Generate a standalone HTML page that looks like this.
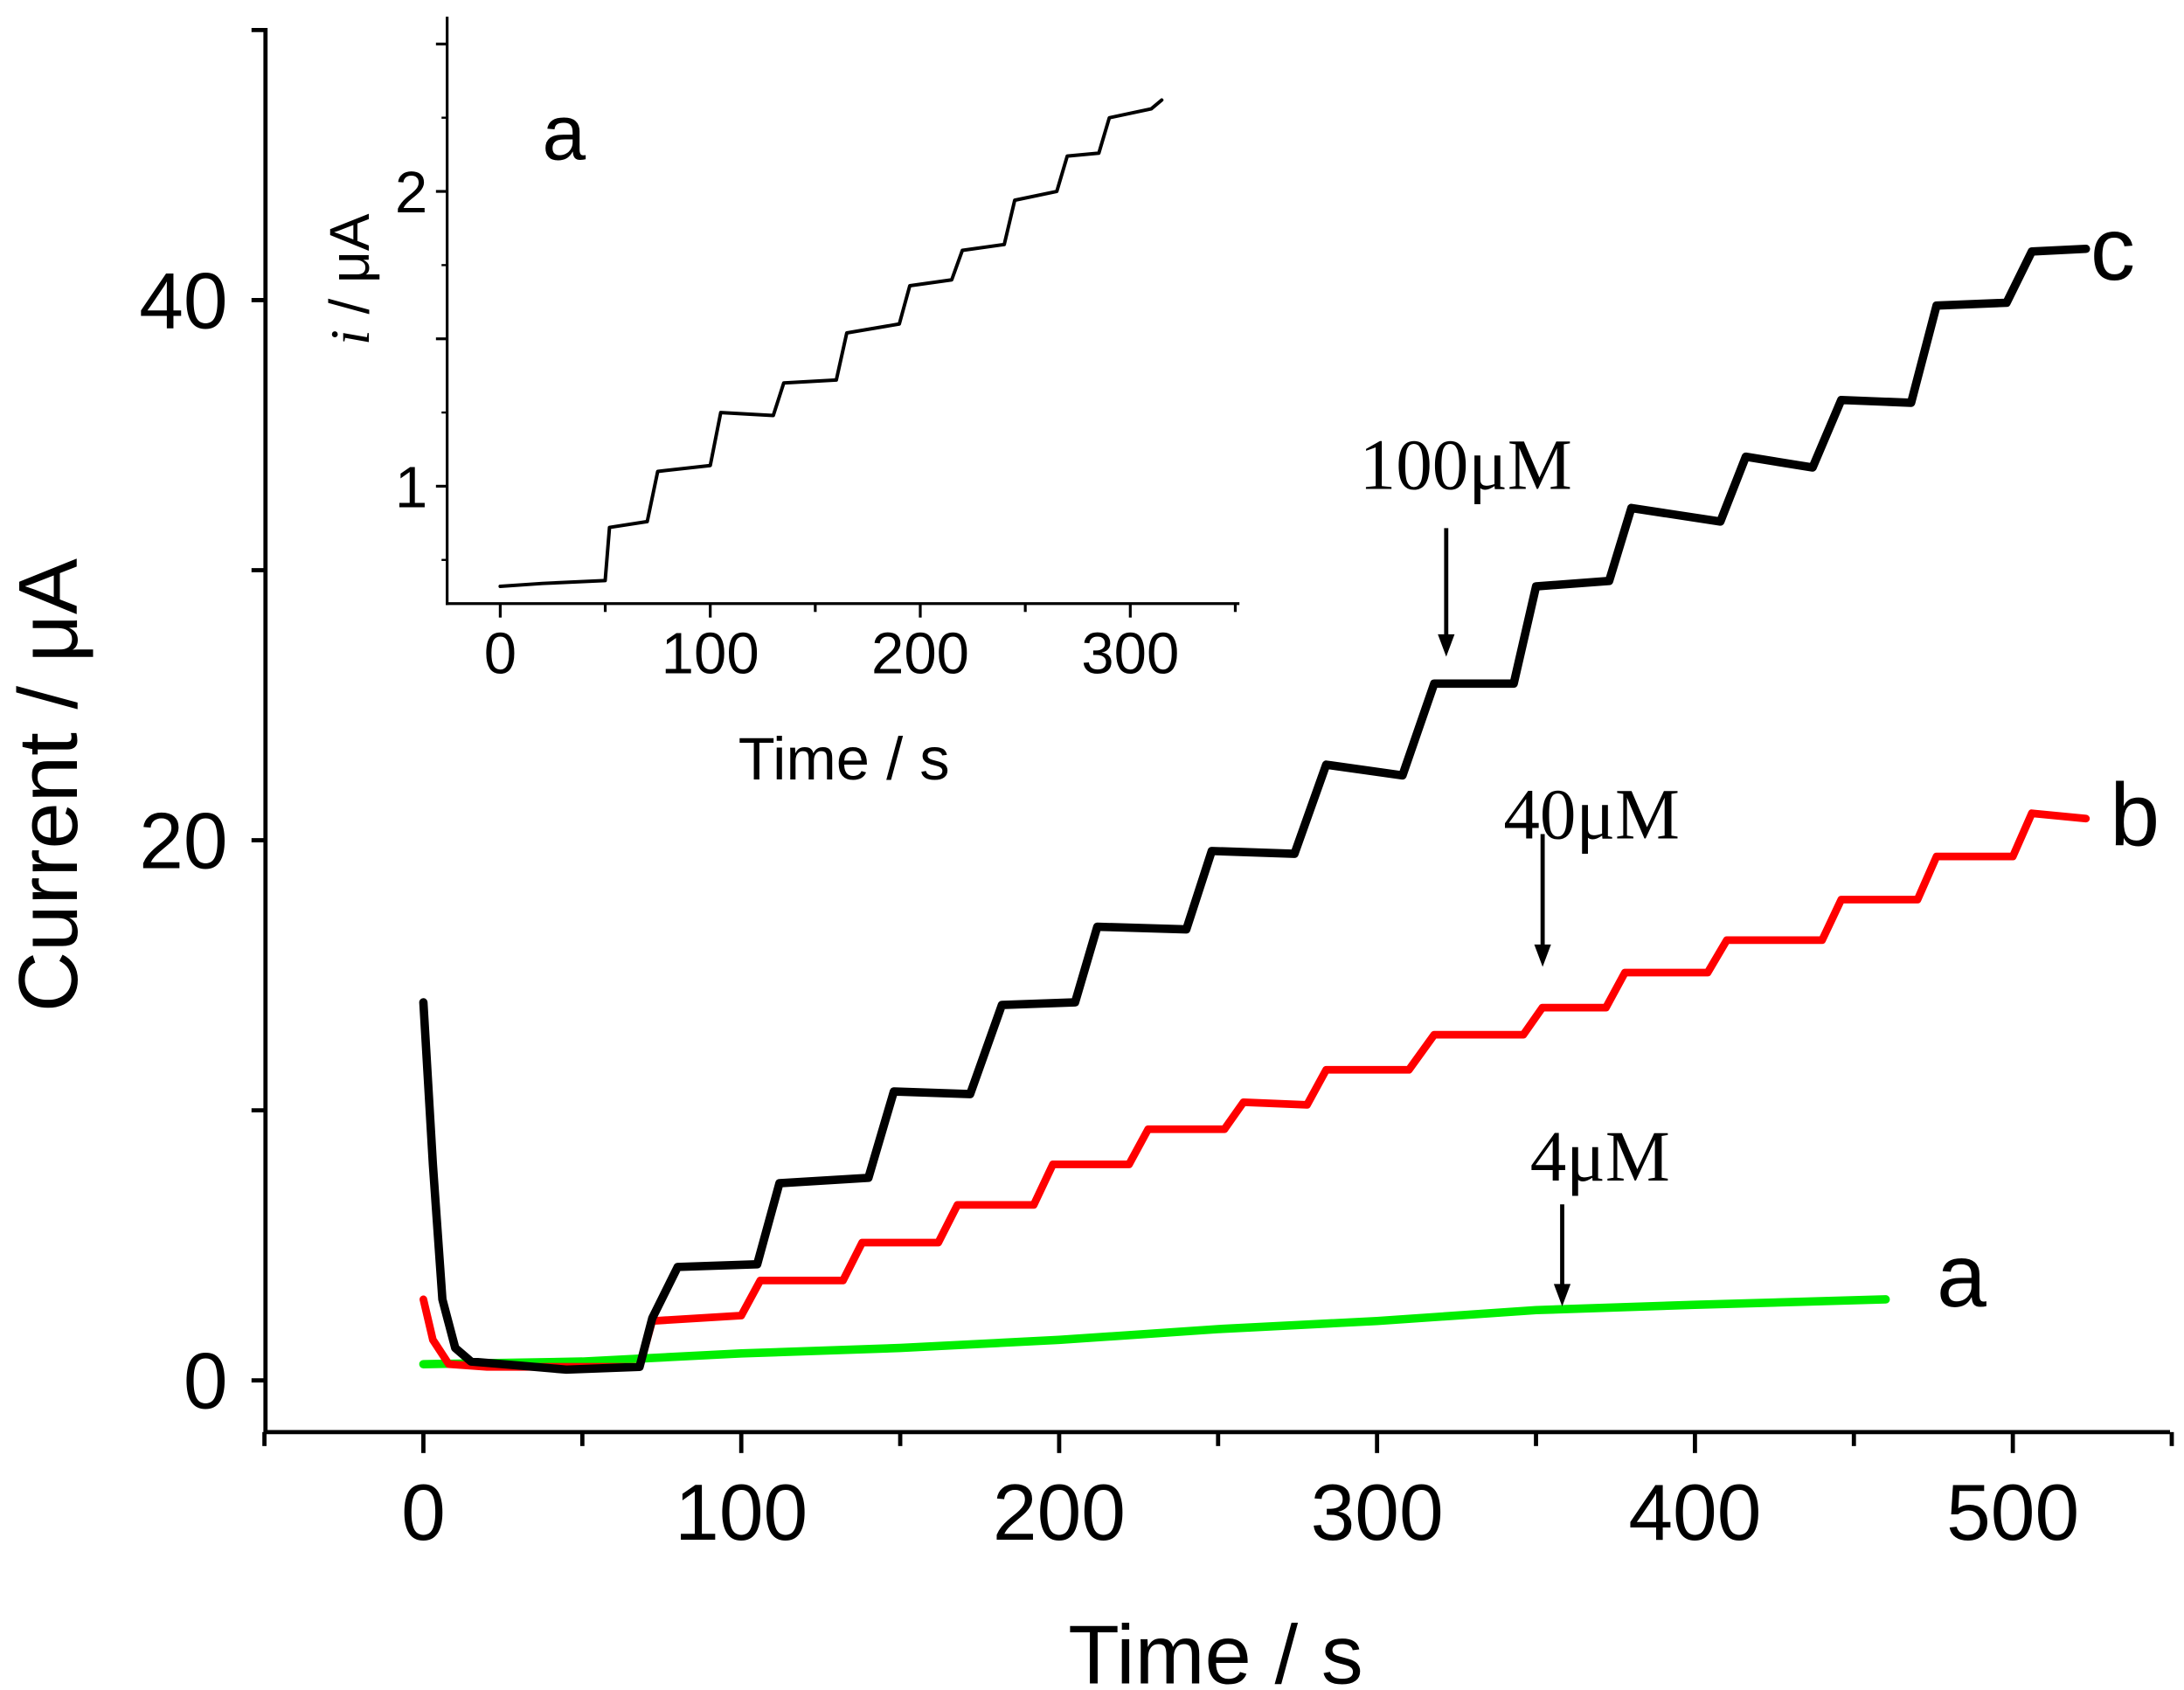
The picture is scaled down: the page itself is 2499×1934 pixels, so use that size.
<!DOCTYPE html>
<html><head><meta charset="utf-8"><style>
html,body{margin:0;padding:0;background:#fff}
svg{display:block}
text{font-family:"Liberation Sans",Arial,sans-serif;fill:#000}
.serif{font-family:"Liberation Serif",serif}
</style></head><body>
<svg id="chart" width="2499" height="1934" viewBox="0 0 1563 1209.6" preserveAspectRatio="none" xmlns="http://www.w3.org/2000/svg">
<g id="main"></g>
<g id="inset"></g>
</svg>
<script>
// ---- main chart data ----
const cTimes=[0,3,6,10,15,25,45,68,72,80,105,112,140,148,172,182,205,212,240,248,274,284,308,318,343,350,373,380,408,416,437,446,468,476,498,506,523];
const cValues=[14,8,3,1.2,0.7,0.6,0.4,0.5,2.3,4.2,4.3,7.3,7.5,10.7,10.6,13.9,14.0,16.8,16.7,19.6,19.5,22.8,22.4,25.8,25.8,29.4,29.6,32.3,31.8,34.2,33.8,36.3,36.2,39.8,39.9,41.8,41.9];
const bTimes=[0,3,8,20,68,72,100,106,132,138,162,168,192,198,222,228,252,258,278,284,310,318,346,352,372,378,404,410,440,446,470,476,500,506,523];
const bValues=[3,1.5,0.6,0.5,0.5,2.2,2.4,3.7,3.7,5.1,5.1,6.5,6.5,8.0,8.0,9.3,9.3,10.3,10.2,11.5,11.5,12.8,12.8,13.8,13.8,15.1,15.1,16.3,16.3,17.8,17.8,19.4,19.4,21.0,20.8];
const aTimes=[0,50,100,150,200,250,300,350,400,460];
const aValues=[0.6,0.7,1.0,1.2,1.5,1.9,2.2,2.6,2.8,3.0];
const xTicks=[0,100,200,300,400,500];
const yTicks=[0,20,40];
// ---- inset data ----
const iTimes=[0,20,50,52,70,75,100,105,130,135,160,165,190,195,215,220,240,245,265,270,285,290,310,315];
const iValues=[0.66,0.67,0.68,0.86,0.88,1.05,1.07,1.25,1.24,1.35,1.36,1.52,1.55,1.68,1.70,1.80,1.82,1.97,2.0,2.12,2.13,2.25,2.28,2.31];
const iXTicks=[0,100,200,300];
const iYTicks=[1,2];

const NS="http://www.w3.org/2000/svg";
function el(tag,attrs,parent,txt){const e=document.createElementNS(NS,tag);for(const k in attrs)e.setAttribute(k,attrs[k]);if(txt!==undefined)e.textContent=txt;parent.appendChild(e);return e;}
const X=t=>303+t*2.275, Y=v=>988-v*19.33;
const main=document.getElementById('main');
function line(x1,y1,x2,y2,w,p,name){const l=el('line',{x1,y1,x2,y2,stroke:'#000','stroke-width':w},p);return l;}
line(190,20,190,1026,3,main,'y-axis');
line(189,1025,1553,1025,3,main,'x-axis');
for(let v=0;v<=50;v+=10){line(180,Y(v),190,Y(v),3,main,'y-tick');}
for(let t=-50;t<=550;t+=50){line(X(t),1025,X(t),t%100===0?1040:1035,3,main,'x-tick');}
xTicks.forEach(t=>{const e=el('text',{x:X(t),y:1102,'font-size':57,'text-anchor':'middle'},main,t);});
yTicks.forEach(v=>{const e=el('text',{x:163,y:Y(v)+20,'font-size':57,'text-anchor':'end'},main,v);});
let e=el('text',{x:870,y:1205,'font-size':60,'text-anchor':'middle'},main,'Time / s');

e=el('text',{x:0,y:0,'font-size':60,'text-anchor':'middle',transform:'translate(55,562) rotate(-90)'},main,'Current / μA');

function path(ts,vs,fx,fy,color,w,p,name){const d=ts.map((t,i)=>(i?'L':'M')+fx(t).toFixed(1)+','+fy(vs[i]).toFixed(1)).join('');const s=el('path',{d,fill:'none',stroke:color,'stroke-width':w,'stroke-linejoin':'round','stroke-linecap':'round'},p);}
path(aTimes,aValues,X,Y,'#00ee00',6,main,'series-a');
path(bTimes,bValues,X,Y,'#ff0000',5.5,main,'series-b');
path(cTimes,cValues,X,Y,'#000',6,main,'series-c');
[['c',1496,200],['b',1510,605],['a',1386,935]].forEach(([s,x,y])=>{const t=el('text',{x,y,'font-size':64},main,s);});
[['100μM',973,350,1035,378,470],['40μM',1076,600,1104,597,692],['4μM',1095,845,1118,862,935]].forEach(([s,x,y,ax,y1,y2])=>{
 const t=el('text',{x,y,'font-size':52,class:'serif'},main,s);
 line(ax,y1,ax,y2-12,3,main,'arrow-shaft');
 const h=el('path',{d:`M${ax-6},${y2-16}L${ax+6},${y2-16}L${ax},${y2}Z`,fill:'#000'},main);
});
// inset
const ins=document.getElementById('inset');
const IX=t=>358+t*1.503, IY=v=>348-(v-1)*211;
line(320,12,320,433,2,ins,'inset-y-axis');
line(319,432,887,432,2,ins,'inset-x-axis');
for(let t=0;t<=350;t+=50){line(IX(t),432,IX(t),t%100===0?442:438,2,ins,'inset-x-tick');}
for(let v=1;v<=2.5;v+=0.5){line(312,IY(v),320,IY(v),2,ins,'inset-y-tick');}
for(let v=0.75;v<=2.6;v+=0.25){line(316,IY(v),320,IY(v),1.5,ins,'inset-y-minor-tick');}
iXTicks.forEach(t=>{const e=el('text',{x:IX(t),y:482,'font-size':42,'text-anchor':'middle'},ins,t);});
iYTicks.forEach(v=>{const e=el('text',{x:306,y:IY(v)+15,'font-size':42,'text-anchor':'end'},ins,v);});
e=el('text',{x:604,y:558,'font-size':43,'text-anchor':'middle'},ins,'Time / s');

e=el('text',{x:0,y:0,'font-size':40,'text-anchor':'middle',transform:'translate(264,200) rotate(-90)'},ins);

el('tspan',{'font-style':'italic',class:'serif'},e,'i');el('tspan',{},e,' / μA');
e=el('text',{x:388,y:114,'font-size':56},ins,'a');

path(iTimes,iValues,IX,IY,'#000',2.5,ins,'inset-series');
</script>
</body></html>
